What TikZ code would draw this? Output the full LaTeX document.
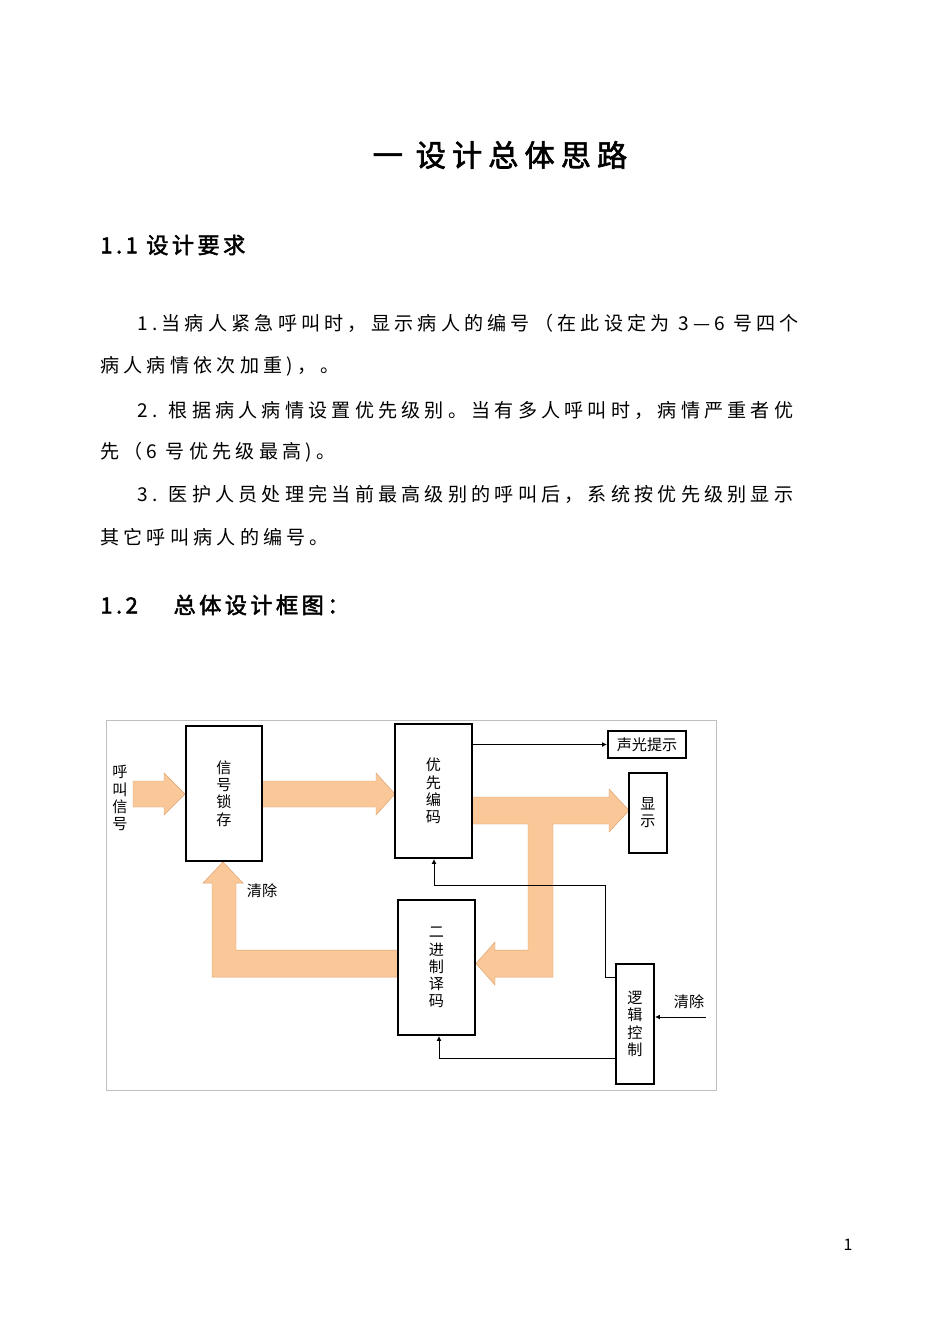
\documentclass[tikz,border=0pt]{standalone}
\usepackage{fontspec}
\setmainfont{Noto Sans CJK SC}
\newfontfamily\cjkb[FakeBold=2]{Noto Sans CJK SC}
\usetikzlibrary{arrows.meta}
\definecolor{fat}{RGB}{250,200,152}
\definecolor{fatline}{RGB}{220,160,110}
\def\px{0.0221cm}
\begin{document}
\begin{tikzpicture}[x=0.0221cm,y=-0.0221cm,
  blk/.style={draw,line width=1.3pt,minimum width=#1*\px,inner sep=0pt,font=\fontsize{9.5}{10.8}\selectfont,align=center},
  fatarrow/.style={fill=fat,draw=fatline,line width=0.3pt},
  thin/.style={line width=0.5pt},
  tip/.style={-{Latex[length=3pt,width=3pt]}},
  body/.style={anchor=west,inner sep=0pt,font=\fontsize{12}{14}\selectfont\addfontfeature{LetterSpace=22}},
  head/.style={anchor=west,inner sep=0pt,font=\fontsize{14}{16}\selectfont\cjkb\addfontfeature{LetterSpace=15}}]
\useasboundingbox (0,0) rectangle (950,1343);
\fill[white] (0,0) rectangle (950,1343);
% texts
\node[inner sep=0pt,font=\fontsize{19}{22}\selectfont\cjkb\addfontfeature{LetterSpace=20}] (title) at (500,155) {一 设计总体思路};
\node[head] (h11) at (100,245) {1.1 设计要求};
\node[body] (l1) at (137,323) {1.当病人紧急呼叫时，显示病人的编号（在此设定为 3—6 号四个};
\node[body] (l2) at (100,366) {病人病情依次加重)，。};
\node[body] (l3) at (137,410) {2. 根据病人病情设置优先级别。当有多人呼叫时，病情严重者优};
\node[body] (l4) at (100,452) {先（6 号优先级最高)。};
\node[body] (l5) at (137,494) {3. 医护人员处理完当前最高级别的呼叫后，系统按优先级别显示};
\node[body] (l6) at (100,537) {其它呼叫病人的编号。};
\node[head] (h12) at (100,605) {1.2\hspace{1.6em}总体设计框图：};
\node[inner sep=0pt,font=\fontsize{10}{12}\selectfont] (pg) at (848,1245) {1};
% frame
\draw[line width=0.4pt,gray!50] (106,720) rectangle (716,1090);
% fat arrows
\draw[fatarrow] (133,781) -- (164,781) -- (164,773) -- (185,794) -- (164,815) -- (164,807) -- (133,807) -- cycle;
\draw[fatarrow] (262,781) -- (376,781) -- (376,773) -- (395,794) -- (376,815) -- (376,807) -- (262,807) -- cycle;
\draw[fatarrow] (472,797) -- (609,797) -- (609,789) -- (629,810.5) -- (609,832) -- (609,824) -- (553,824) -- (553,977) -- (495,977) -- (495,985) -- (476,963.5) -- (495,942) -- (495,950) -- (528,950) -- (528,824) -- (472,824) -- cycle;
\draw[fatarrow] (398,950) -- (236,950) -- (236,883) -- (243,883) -- (223,862) -- (203,883) -- (212,883) -- (212,977) -- (398,977) -- cycle;
% boxes
\node[blk=76,minimum height=135*\px] (latch) at (224,793.5) {信\\号\\锁\\存};
\node[blk=77,minimum height=134*\px] (enc) at (433.5,791) {优\\先\\编\\码};
\node[blk=78,minimum height=27*\px] (sg) at (647,744.5) {声光提示};
\node[blk=38,minimum height=80*\px] (disp) at (648,813) {显\\示};
\node[blk=77,minimum height=135*\px] (dec) at (436.5,967.5) {二\\进\\制\\译\\码};
\node[blk=38,minimum height=120*\px] (logic) at (635,1024) {逻\\辑\\控\\制};
% labels
\node[inner sep=0pt,font=\fontsize{9.5}{10.8}\selectfont,align=center] (call) at (120,798) {呼\\叫\\信\\号};
\node[inner sep=0pt,font=\fontsize{9.5}{10.8}\selectfont] (clr1) at (262,891) {清除};
\node[inner sep=0pt,font=\fontsize{9.5}{10.8}\selectfont] (clr2) at (689,1002) {清除};
\coordinate (cin) at (706,1017);
% thin connectors
\draw[thin,tip] (enc.east |- sg) -- (sg.west);
\draw[thin,tip] (logic.west |- 0,977) -- (605,977) -- (605,885) -- (434,885) -- (enc.south -| 434,0);
\draw[thin,tip] (logic.west |- 0,1058) -- (439,1058) -- (dec.south -| 439,0);
\draw[thin,tip] (cin) -- (logic.east |- cin);
\end{tikzpicture}
\end{document}
